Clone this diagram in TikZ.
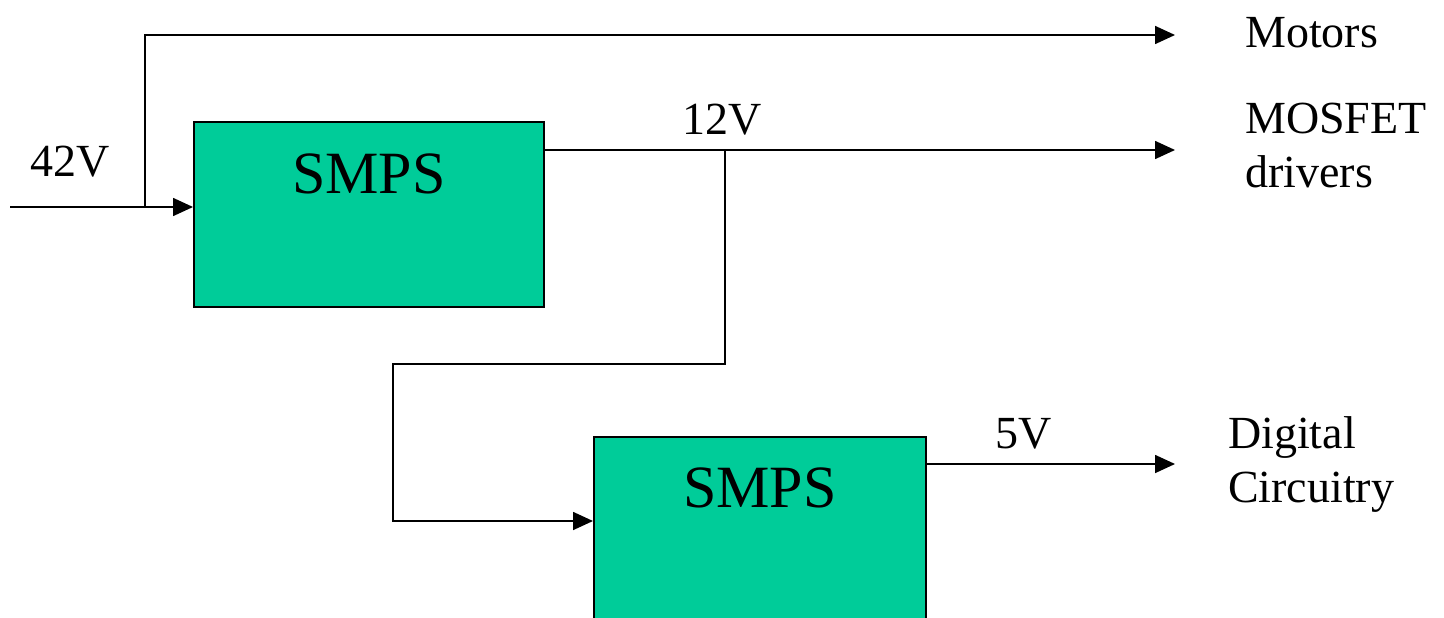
\documentclass[tikz,border=0pt]{standalone}
\usepackage{fontspec}
\setmainfont{Liberation Serif}
\usetikzlibrary{positioning,arrows.meta}
\definecolor{smpsgreen}{HTML}{00CC99}

\begin{document}
\begin{tikzpicture}[x=1pt, y=-1pt, >={Triangle[length=20pt,width=18pt]},
    wire/.style={line width=1.7pt},
    smpsbox/.style={draw, line width=1.7pt, fill=smpsgreen, inner sep=0pt, anchor=north west, font=\fontsize{60}{66}\selectfont},
    volt/.style={inner sep=0pt, anchor=base west, font=\fontsize{46}{53}\selectfont},
    load/.style={inner sep=0pt, anchor=base west, align=left, font=\fontsize{46}{54}\selectfont}]
    \clip (0,0) rectangle (1444,618);

    % SMPS blocks
    \node[smpsbox, minimum width=350pt, text height=72pt, text depth=113pt] (smps1) at (193,121) {SMPS};
    \node[smpsbox, minimum width=332pt, text height=71pt, text depth=129pt] (smps2) at (593,436) {SMPS};

    % Wire corners and ends
    \coordinate (in) at (10,207);
    \coordinate (tap) at (145,207);
    \coordinate (split) at (725,150);
    \coordinate (loopleft) at (393,364);
    \coordinate (feed) at (393,521);
    \coordinate (motorsend) at (1175,35);
    \coordinate (driversend) at (1175,150);
    \coordinate (digitalend) at (1175,464);

    % 42V input and motor supply
    \draw[wire, ->] (in) -- (smps1.west |- in);
    \draw[wire, ->] (tap) |- (motorsend);

    % 12V rail
    \draw[wire, ->] (smps1.east |- driversend) -- (driversend);
    \draw[wire, ->] (split) |- (loopleft) -- (feed) -- (smps2.west |- feed);

    % 5V rail
    \draw[wire, ->] (smps2.east |- digitalend) -- (digitalend);

    % Voltages
    \node[volt] (v42) at (30,176) {42V};
    \node[volt] (v12) at (682,134) {12V};
    \node[volt] (v5) at (995,448) {5V};

    % Loads
    \node[load] (motors) at (1245,48) {Motors};
    \node[load] (drivers) at (1245,187) {MOSFET\\drivers};
    \node[load] (digital) at (1228,502) {Digital\\Circuitry};
\end{tikzpicture}
\end{document}
